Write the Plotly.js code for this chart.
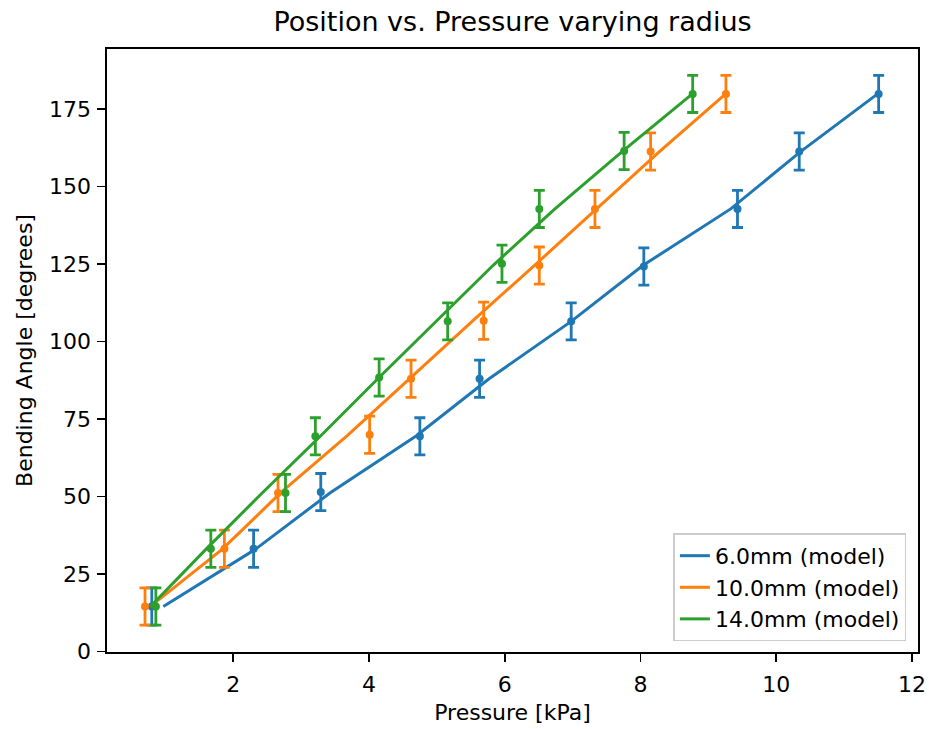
<!DOCTYPE html>
<html>
<head>
<meta charset="utf-8">
<script src="https://cdn.plot.ly/plotly-3.0.1.min.js"></script>
<style>html,body{margin:0;padding:0;background:#fff;}#chart{width:929px;height:729px;}</style>
</head>
<body>
<div id="chart"></div>
<script>
// Measured data (pressure kPa, bending angle degrees)
const seriesNames = ["6.0mm (model)", "10.0mm (model)", "14.0mm (model)"];
const colors = ["#1f77b4", "#ff7f0e", "#2ca02c"];

const p6  = [0.80, 2.30, 3.29, 4.75, 5.63, 6.98, 8.05, 9.43, 10.34, 11.51];
const a6  = [14.5, 33.1, 51.4, 69.4, 88.0, 106.5, 124.2, 142.8, 161.3, 179.9];
const p10 = [0.70, 1.87, 2.66, 4.01, 4.62, 5.69, 6.51, 7.33, 8.15, 9.26];
const a10 = [14.5, 33.1, 51.1, 69.9, 88.0, 106.7, 124.5, 142.8, 161.3, 179.9];
const p14 = [0.86, 1.67, 2.77, 3.21, 4.15, 5.16, 5.96, 6.51, 7.76, 8.77];
const a14 = [14.5, 33.1, 51.1, 69.4, 88.4, 106.5, 125.1, 142.8, 161.5, 179.9];
const angleError = 6;

// Model curves
const modelAngle = [14.5, 33.0, 51.2, 69.6, 88.0, 106.5, 124.6, 142.8, 161.3, 180.0];
const model6  = [0.97, 2.33, 3.43, 4.70, 5.77, 6.98, 8.04, 9.33, 10.36, 11.50];
const model10 = [0.78, 1.84, 2.70, 3.68, 4.60, 5.52, 6.44, 7.35, 8.28, 9.26];
const model14 = [0.78, 1.60, 2.43, 3.29, 4.13, 4.99, 5.83, 6.74, 7.73, 8.77];

const xTicks = [2, 4, 6, 8, 10, 12];
const yTicks = [0, 25, 50, 75, 100, 125, 150, 175];

const measured = [[p6, a6], [p10, a10], [p14, a14]];
const models = [model6, model10, model14];

const FONT = "DejaVu Sans, Liberation Sans, sans-serif";
const traces = [];
for (let i = 0; i < 3; i++) {
  traces.push({
    x: measured[i][0], y: measured[i][1], type: "scatter", mode: "markers",
    marker: {color: colors[i], size: 8},
    error_y: {type: "constant", value: angleError, color: colors[i], thickness: 2.8, width: 5.5},
    showlegend: false, hoverinfo: "skip"
  });
  traces.push({
    x: models[i], y: modelAngle, type: "scatter", mode: "lines",
    line: {color: colors[i], width: 3},
    name: seriesNames[i]
  });
}

const axisCommon = {
  showgrid: false, zeroline: false, showline: true, mirror: true,
  linecolor: "#000", linewidth: 1.6, ticks: "outside", ticklen: 8, tickwidth: 1.6,
  tickcolor: "#000", tickfont: {family: FONT, size: 22, color: "#000"}, automargin: false
};

const layout = {
  width: 929, height: 729,
  margin: {l: 107, r: 11, t: 49, b: 77},
  paper_bgcolor: "#fff", plot_bgcolor: "#fff",
  font: {family: FONT, color: "#000"},
  title: {text: "Position vs. Pressure varying radius", font: {family: FONT, size: 27, color: "#000"},
          x: 0.5, xref: "paper", y: 1 - 22/729, yref: "container", yanchor: "middle"},
  xaxis: Object.assign({}, axisCommon, {
    range: [0.14, 12.09], tickvals: xTicks, ticktext: xTicks.map(String), ticklabelstandoff: 4,
    title: {text: "Pressure [kPa]", font: {family: FONT, size: 22, color: "#000"}, standoff: 8}
  }),
  yaxis: Object.assign({}, axisCommon, {
    range: [-0.2, 194.4], tickvals: yTicks, ticktext: yTicks.map(String), ticklabelstandoff: 2,
    title: {text: "Bending Angle [degrees]", font: {family: FONT, size: 22, color: "#000"}, standoff: 10}
  }),
  showlegend: true,
  legend: {
    x: 0.9857, xanchor: "right", y: 0.0176, yanchor: "bottom",
    bgcolor: "rgba(255,255,255,0.8)", bordercolor: "#cccccc", borderwidth: 1.5,
    font: {family: FONT, size: 22, color: "#000"}
  }
};

Plotly.newPlot("chart", traces, layout, {staticPlot: true, displayModeBar: false});
</script>
</body>
</html>
